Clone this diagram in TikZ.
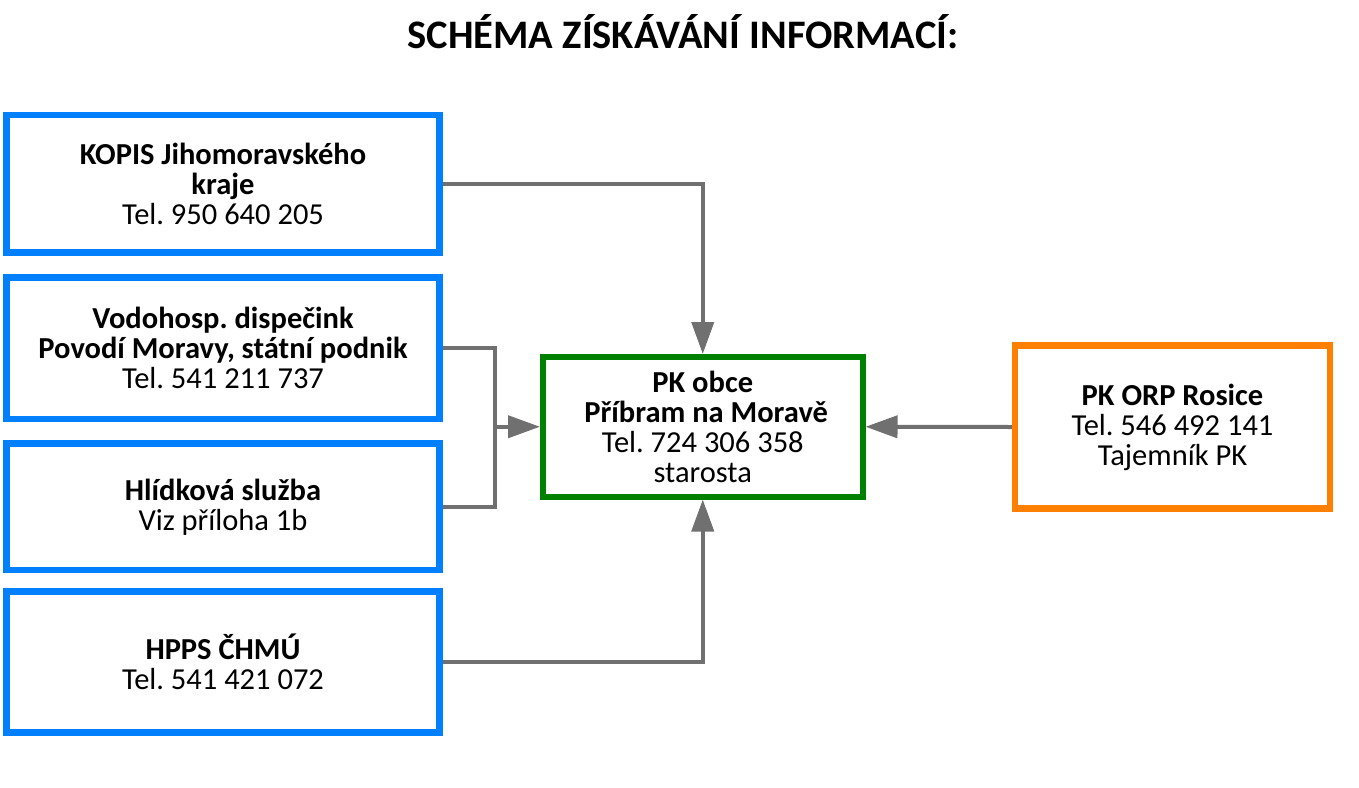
\documentclass[tikz,border=0pt]{standalone}
\usepackage{fontspec}
\setmainfont{Carlito}
\frenchspacing
\usetikzlibrary{arrows.meta}
\definecolor{boxblue}{RGB}{0,128,255}
\definecolor{boxgreen}{RGB}{0,128,0}
\definecolor{boxorange}{RGB}{255,128,0}
\definecolor{linegray}{RGB}{112,112,112}
\tikzset{
  infobox/.style={draw=boxblue, line width=6.5pt, inner sep=0pt, align=center,
    minimum width=433pt, font=\fontsize{30.5}{30}\selectfont},
  conn/.style={draw=linegray, line width=4pt},
  arr/.style={conn, -{Triangle[length=32pt,width=22pt]}, linegray}
}
\begin{document}
\begin{tikzpicture}[x=1pt,y=-1pt]
                \useasboundingbox (0,0) rectangle (1359,787);
                \node[anchor=base] (title) at (683,48) {\fontsize{40.5}{48}\selectfont\bfseries SCHÉMA ZÍSKÁVÁNÍ INFORMACÍ:};
                \node[infobox, minimum height=137.5pt] (kopis) at (223,183.75) {\textbf{KOPIS Jihomoravského}\\\textbf{kraje}\\Tel. 950 640 205};
                \node[infobox, minimum height=141.5pt] (vodo) at (223,348.25) {\textbf{Vodohosp. dispečink}\\\textbf{Povodí Moravy, státní podnik}\\Tel. 541 211 737};
                \node[infobox, minimum height=126.5pt] (hlid) at (223,506.75) {\textbf{Hlídková služba}\\Viz příloha 1b};
                \node[infobox, minimum height=141pt] (hpps) at (223,662) {\textbf{HPPS ČHMÚ}\\Tel. 541 421 072};
                \node[infobox, draw=boxgreen, line width=6pt, minimum width=319.5pt, minimum height=139.5pt] (obce) at (702.75,426.75) {\textbf{PK obce}\\\textbf{\ Příbram na Moravě}\\Tel. 724 306 358\\starosta};
                \node[infobox, draw=boxorange, minimum width=315pt, minimum height=163pt] (orp) at (1172.5,427) {\textbf{PK ORP Rosice}\\Tel. 546 492 141\\Tajemník PK};
                % spojnice
                \draw[arr] (kopis.east) -| (obce.north);
                \draw[arr] (hpps.east) -| (obce.south);
                \draw[conn] (vodo.east) -- ++(52,0) coordinate (br) |- (hlid.east);
                \coordinate (mid) at (br |- obce.west);
                \draw[arr] (mid) -- (obce.west);
                \draw[arr] (orp.west) -- (obce.east);
            \end{tikzpicture}
\end{document}
